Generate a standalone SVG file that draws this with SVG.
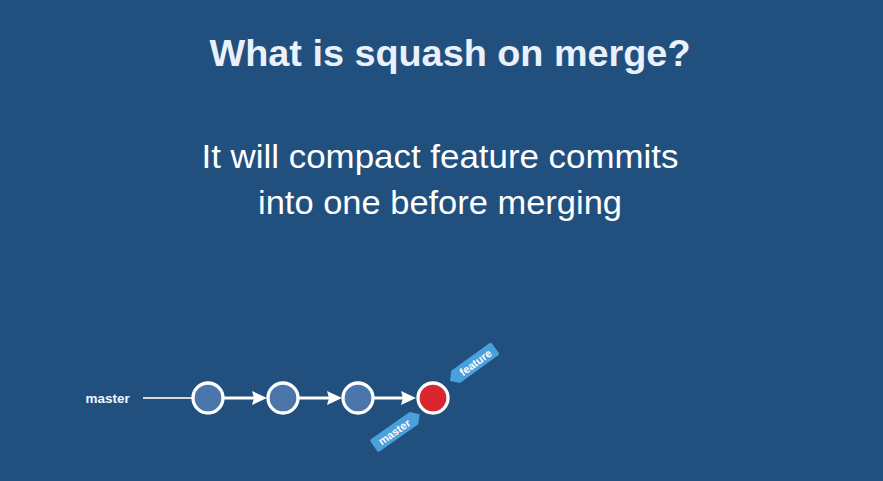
<svg xmlns="http://www.w3.org/2000/svg" width="883" height="481" viewBox="0 0 883 481">
  <defs>
    <style>
      .title { font-family: "Liberation Sans", Arial, sans-serif; font-weight: bold; font-size: 37.8px; fill: #eaf1fa; }
      .sub { font-family: "Liberation Sans", Arial, sans-serif; font-size: 34px; fill: #ffffff; }
      .lbl { font-family: "Liberation Sans", Arial, sans-serif; font-weight: bold; font-size: 13.5px; fill: #f2f5f9; }
      .tagtext { font-family: "Liberation Sans", Arial, sans-serif; font-weight: bold; font-size: 11px; fill: #ffffff; }
      .commit { fill: #4a76ab; stroke: #ffffff; stroke-width: 3.3; }
      .head { fill: #d9262f; stroke: #ffffff; stroke-width: 3.3; }
      .edge { stroke: #ffffff; stroke-width: 3; fill: none; }
      .arrowhead { fill: #ffffff; }
      .tag { fill: #4aa0dc; }
    </style>
  </defs>
  <rect x="0" y="0" width="883" height="481" fill="#21507f"/>

  <text class="title" x="450" y="66" text-anchor="middle">What is squash on merge?</text>
  <text class="sub" x="440" y="168" text-anchor="middle" textLength="477" lengthAdjust="spacingAndGlyphs">It will compact feature commits</text>
  <text class="sub" x="440" y="214" text-anchor="middle" textLength="364" lengthAdjust="spacingAndGlyphs">into one before merging</text>

  <g id="connectors">
    <line x1="143" y1="398" x2="192" y2="398" stroke="#d8d8d8" stroke-width="2"/>
    <line class="edge" x1="224" y1="398" x2="254" y2="398"/>
    <path class="arrowhead" d="M252,391 L267,398 L252,405 L254,398 Z"/>
    <line class="edge" x1="299" y1="398" x2="329" y2="398"/>
    <path class="arrowhead" d="M327,391 L342,398 L327,405 L329,398 Z"/>
    <line class="edge" x1="374" y1="398" x2="403" y2="398"/>
    <path class="arrowhead" d="M401,391 L416,398 L401,405 L403,398 Z"/>
  </g>

  <g id="master-label">
    <text class="lbl" x="85.5" y="402.5">master</text>
  </g>
  <g id="c1"><circle class="commit" cx="208" cy="398" r="15"/></g>
  <g id="c2"><circle class="commit" cx="283" cy="398" r="15"/></g>
  <g id="c3"><circle class="commit" cx="358" cy="398" r="15"/></g>
  <g id="c4"><circle class="head" cx="433" cy="398" r="15"/></g>

  <g id="tag-feature" transform="translate(450,381) rotate(-36)">
    <path class="tag" d="M0,0 L7,-7.5 L54,-7.5 Q56,-7.5 56,-5.5 L56,5.5 Q56,7.5 54,7.5 L7,7.5 Z"/>
    <text class="tagtext" x="31.5" y="4" text-anchor="middle">feature</text>
  </g>
  <g id="tag-master" transform="translate(419.7,414.2) rotate(-35)">
    <path class="tag" d="M0,0 L-7,-7.5 L-54,-7.5 Q-56,-7.5 -56,-5.5 L-56,5.5 Q-56,7.5 -54,7.5 L-7,7.5 Z"/>
    <text class="tagtext" x="-31" y="4" text-anchor="middle">master</text>
  </g>
</svg>
